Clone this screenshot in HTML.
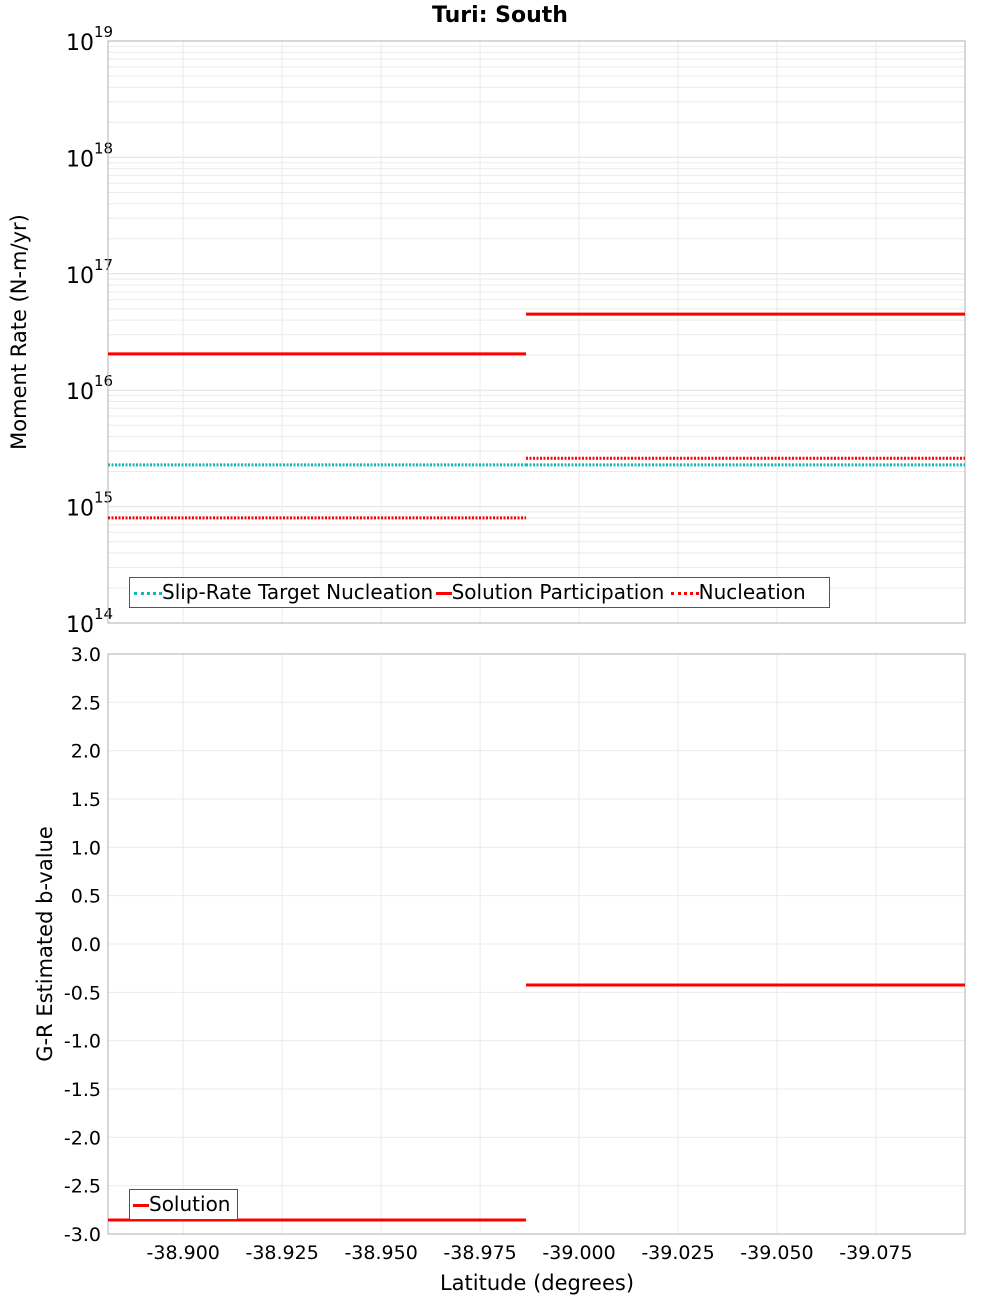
<!DOCTYPE html>
<html><head><meta charset="utf-8"><style>
body{margin:0;background:#fff;}
svg{display:block;font-family:"DejaVu Sans","Liberation Sans",sans-serif;}
</style></head><body>
<svg id="c" width="1000" height="1300" xmlns="http://www.w3.org/2000/svg">
<text x="500" y="22" text-anchor="middle" font-size="22" font-weight="bold">Turi: South</text>
<g id="topPlot"></g>
<g id="botPlot"></g>
<text transform="translate(26,332) rotate(-90)" text-anchor="middle" font-size="21">Moment Rate (N-m/yr)</text>
<text transform="translate(52,944) rotate(-90)" text-anchor="middle" font-size="21">G-R Estimated b-value</text>
<text x="537" y="1290" text-anchor="middle" font-size="21">Latitude (degrees)</text>
</svg>
<script>
const xTicks=[-38.900,-38.925,-38.950,-38.975,-39.000,-39.025,-39.050,-39.075];
const segStart=[-38.8810,-38.9866];
const segEnd=[-38.9866,-39.0975];
const targetNuc=[2.28e15,2.28e15];
const solPart=[2.05e16,4.5e16];
const nucleation=[8.0e14,2.6e15];
const bValue=[-2.855,-0.424];
const bTicks=[3.0,2.5,2.0,1.5,1.0,0.5,0.0,-0.5,-1.0,-1.5,-2.0,-2.5,-3.0];
const logTicks=[19,18,17,16,15,14];

const NS='http://www.w3.org/2000/svg';
const L=108,R=965,T1=41,B1=623,T2=654,B2=1234;
const xMin=-38.8810,xMax=-39.0975;
function X(v){return L+(v-xMin)/(xMax-xMin)*(R-L);}
function Y1(v){return B1-(Math.log10(v)-14)/5*(B1-T1);}
function Y2(v){return B2-(v+3)/6*(B2-T2);}
function mk(p,tag,a){const e=document.createElementNS(NS,tag);for(const k in a)e.setAttribute(k,a[k]);p.appendChild(e);return e;}
const gTop=document.getElementById('topPlot'),gBot=document.getElementById('botPlot');
for(let d=14;d<19;d++)for(let m=2;m<=9;m++){const g=mk(gTop,'line',{x1:L,x2:R,y1:Y1(m*Math.pow(10,d)),y2:Y1(m*Math.pow(10,d)),stroke:'#ebebeb'});

}
logTicks.forEach(t=>{const g=mk(gTop,'line',{x1:L,x2:R,y1:Y1(Math.pow(10,t)),y2:Y1(Math.pow(10,t)),stroke:'#e0e0e0'});


const tx=mk(gTop,'text',{x:66,y:Y1(Math.pow(10,t))+9,'font-size':22});tx.innerHTML='10<tspan dy="-13" font-size="15">'+t+'</tspan>';

});
bTicks.forEach(t=>{const g=mk(gBot,'line',{x1:L,x2:R,y1:Y2(t),y2:Y2(t),stroke:'#ebebeb'});


const tx=mk(gBot,'text',{x:101,y:Y2(t)+7,'font-size':19,'text-anchor':'end'});tx.textContent=t.toFixed(1);

});
xTicks.forEach(t=>{[[gTop,T1,B1],[gBot,T2,B2]].forEach(([p,a,b])=>{const g=mk(p,'line',{x1:X(t),x2:X(t),y1:a,y2:b,stroke:'#ebebeb'});

});
const tx=mk(gBot,'text',{x:X(t),y:1259,'font-size':19,'text-anchor':'middle'});tx.textContent=t.toFixed(3);

});
const f1=mk(gTop,'rect',{x:L,y:T1,width:R-L,height:B1-T1,fill:'none',stroke:'#b0b0b0'});


const f2=mk(gBot,'rect',{x:L,y:T2,width:R-L,height:B2-T2,fill:'none',stroke:'#b0b0b0'});


function seg(p,arr,Y,col,dash,name){for(let i=0;i<arr.length;i++){const a={x1:X(segStart[i]),x2:X(segEnd[i]),y1:Y(arr[i]),y2:Y(arr[i]),stroke:col,'stroke-width':3};if(dash)a['stroke-dasharray']='2,1.5';const e=mk(p,'line',a);

}}
seg(gTop,targetNuc,Y1,'#10b8b8',true,'target-nucleation-segment');
seg(gTop,nucleation,Y1,'#ff0000',true,'nucleation-segment');
seg(gTop,solPart,Y1,'#ff0000',false,'solution-participation-segment');
seg(gBot,bValue,Y2,'#ff0000',false,'solution-bvalue-segment');
</script>
<div style="position:absolute;left:129px;top:577px;width:699px;height:29px;border:1.5px solid #555;background:#fff;font:20px 'DejaVu Sans','Liberation Sans',sans-serif;line-height:29px;white-space:nowrap;overflow:hidden">
<span style="display:inline-block;width:28px;border-top:3px dotted #10b8b8;vertical-align:middle;margin-left:4px"></span><span>Slip-Rate Target Nucleation</span>
<span style="display:inline-block;width:16px;border-top:3px solid #f00;vertical-align:middle;margin-left:-4px"></span><span>Solution Participation</span>
<span style="display:inline-block;width:28px;border-top:3px dotted #f00;vertical-align:middle"></span><span>Nucleation</span>
</div>
<div style="position:absolute;left:129px;top:1189px;width:107px;height:29px;border:1.5px solid #555;background:#fff;font:20px 'DejaVu Sans','Liberation Sans',sans-serif;line-height:29px;white-space:nowrap">
<span style="display:inline-block;width:16px;border-top:3px solid #f00;vertical-align:middle;margin-left:3px"></span><span>Solution</span>
</div>
</body></html>
